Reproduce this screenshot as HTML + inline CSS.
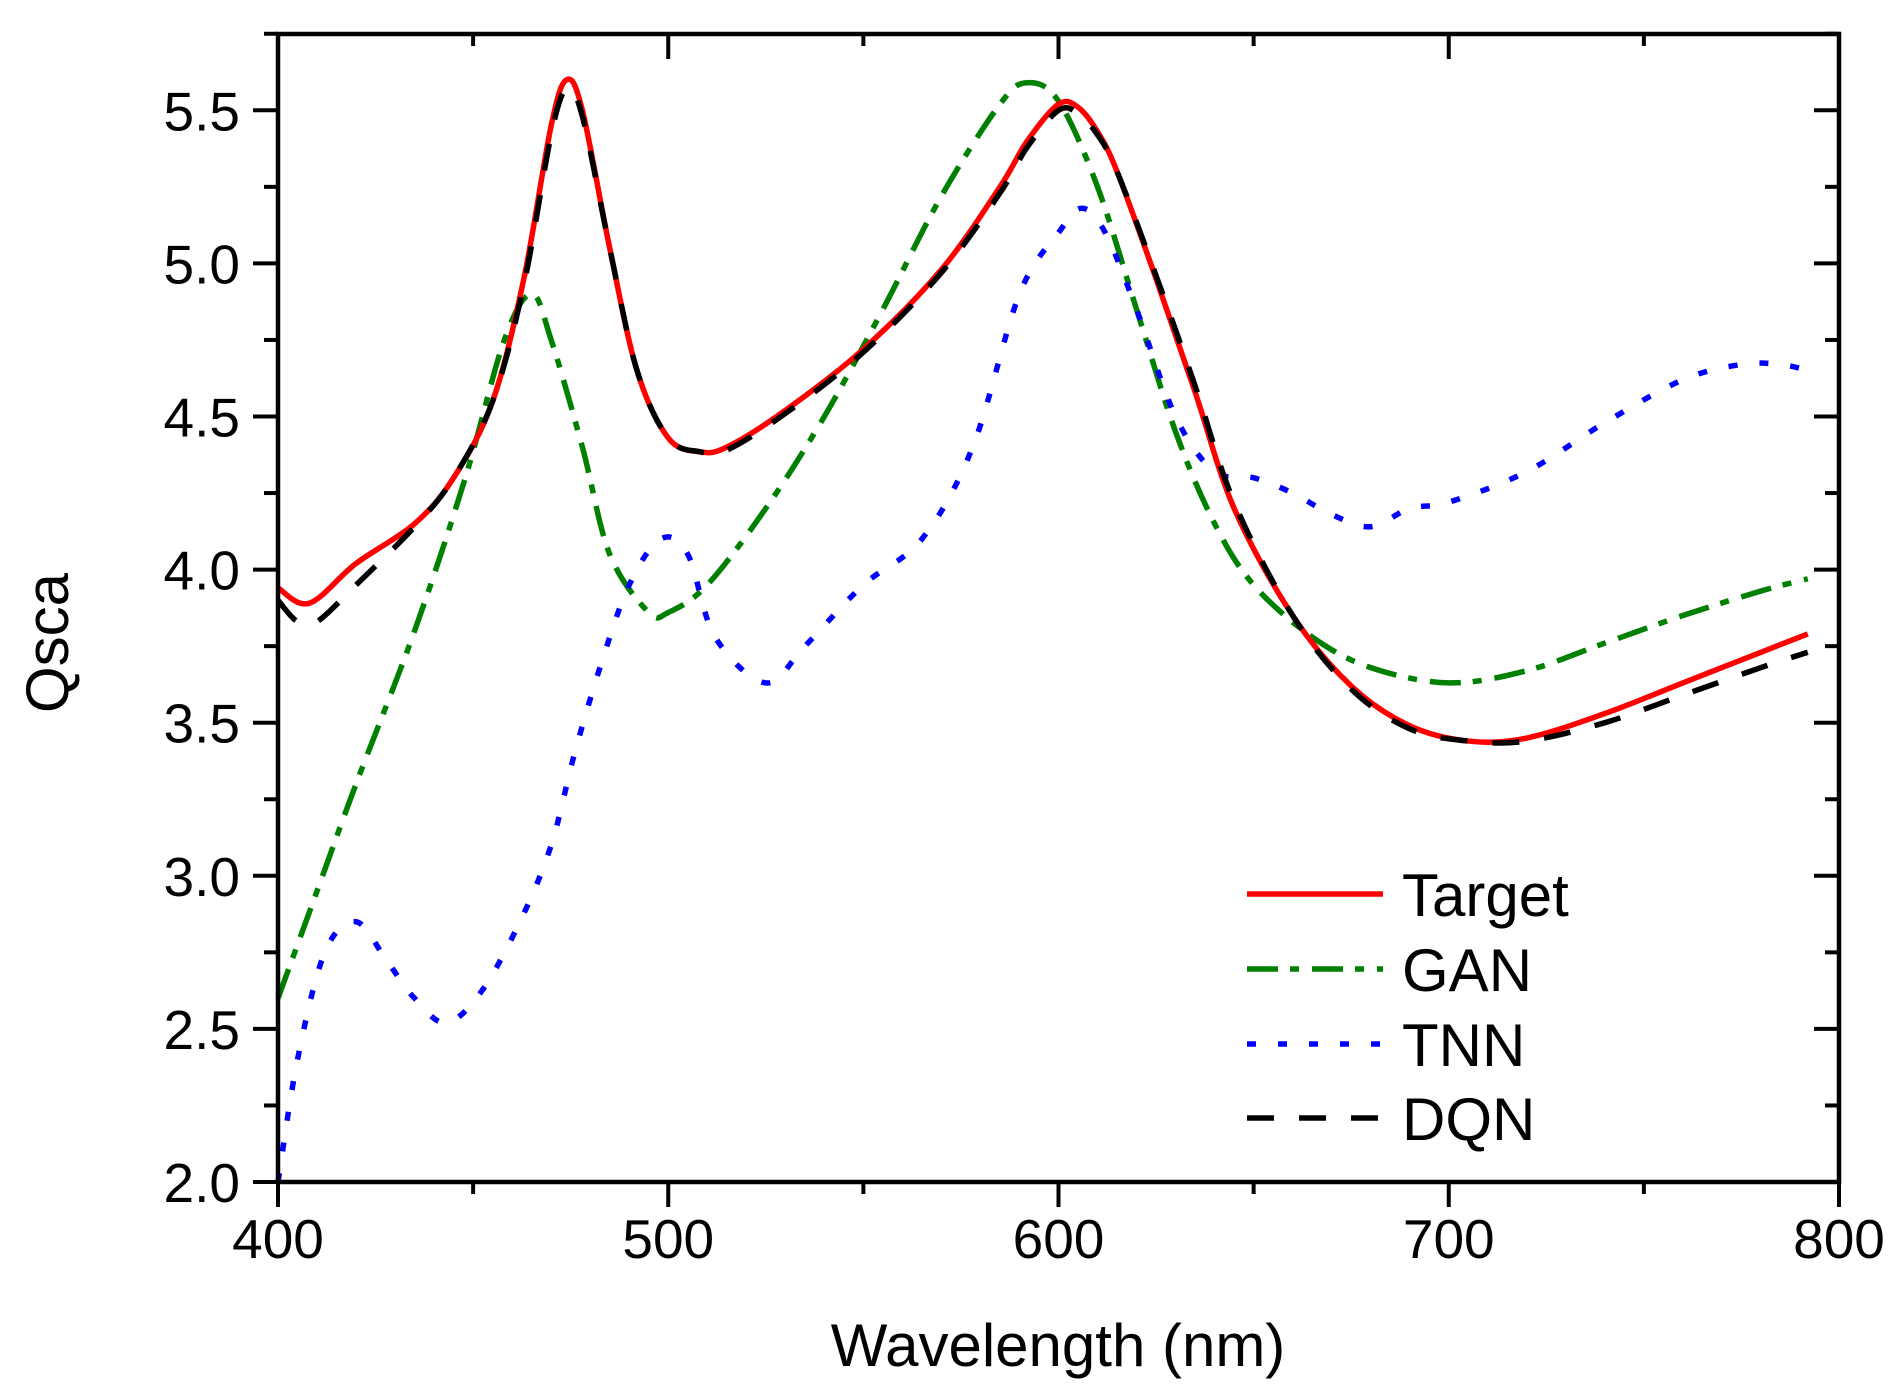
<!DOCTYPE html>
<html><head><meta charset="utf-8"><style>
html,body{margin:0;padding:0;background:#fff}
svg{display:block}
text{font-family:"Liberation Sans",Arial,sans-serif;fill:#000}
</style></head><body>
<svg id="chart" width="1904" height="1398" viewBox="0 0 1904 1398">
<g id="plot"></g>
</svg>
<script>
const wl_target=[400,408,420,435,445,455,463,470,474,478,485,492,500,508,515,530,550,570,585,592,600,605,610,615,625,635,645,660,675,690,705,720,740,760,780,792];
const q_target=[3.94,3.89,4.02,4.15,4.30,4.55,4.95,5.45,5.60,5.50,5.05,4.65,4.43,4.385,4.40,4.52,4.72,4.98,5.25,5.40,5.52,5.51,5.43,5.30,4.95,4.58,4.20,3.85,3.62,3.49,3.44,3.45,3.53,3.63,3.73,3.79];
const wl_dqn=[400,405,410,420,435,445,455,463,470,474,478,485,492,500,508,515,530,550,570,585,592,600,605,610,615,625,635,645,660,675,690,705,720,740,760,780,792];
const q_dqn=[3.90,3.83,3.83,3.95,4.14,4.30,4.55,4.93,5.42,5.57,5.48,5.05,4.65,4.43,4.385,4.39,4.51,4.71,4.97,5.23,5.38,5.50,5.49,5.42,5.30,4.96,4.60,4.22,3.85,3.61,3.48,3.44,3.44,3.50,3.59,3.68,3.73];
const wl_gan=[400,410,420,435,448,458,465,470,478,485,495,500,510,525,540,555,570,585,592,600,610,620,630,640,650,665,680,700,720,740,760,780,792];
const q_gan=[2.60,2.95,3.30,3.80,4.30,4.75,4.90,4.75,4.40,4.05,3.86,3.86,3.95,4.20,4.50,4.85,5.22,5.52,5.59,5.53,5.25,4.85,4.45,4.15,3.95,3.78,3.68,3.63,3.67,3.76,3.85,3.93,3.97];
const wl_tnn=[400,405,412,420,428,435,443,452,462,470,476,483,490,498,505,512,525,535,550,565,578,590,600,606,612,620,630,640,650,660,670,680,690,700,720,740,760,775,785,792];
const q_tnn=[2.0,2.4,2.75,2.85,2.72,2.60,2.52,2.62,2.85,3.10,3.40,3.70,3.95,4.10,4.05,3.78,3.63,3.75,3.95,4.10,4.40,4.90,5.10,5.18,5.10,4.85,4.50,4.32,4.30,4.25,4.18,4.14,4.20,4.22,4.32,4.48,4.62,4.67,4.67,4.65];
const xTicks=[400,500,600,700,800];
const yTicks=[2.0,2.5,3.0,3.5,4.0,4.5,5.0,5.5];

const L=278,R=1839,T=34,B=1182;
const sx=v=>L+(v-400)/400*(R-L);
const sy=v=>B-(v-2)/0.5*153.1;
const NS='http://www.w3.org/2000/svg';
const g=document.getElementById('plot');
function mk(tag,attrs){const e=document.createElementNS(NS,tag);for(const k in attrs)e.setAttribute(k,attrs[k]);g.appendChild(e);return e;}
function path(xs,ys){
  const p=xs.map((x,i)=>[sx(x),sy(ys[i])]);
  let d='M'+p[0][0]+','+p[0][1];
  for(let i=0;i<p.length-1;i++){
    const p0=p[Math.max(i-1,0)],p1=p[i],p2=p[i+1],p3=p[Math.min(i+2,p.length-1)];
    const c1=[p1[0]+(p2[0]-p0[0])/6,p1[1]+(p2[1]-p0[1])/6];
    const c2=[p2[0]-(p3[0]-p1[0])/6,p2[1]-(p3[1]-p1[1])/6];
    d+=' C'+c1+' '+c2+' '+p2;
  }
  return d;
}
const sGan=mk('path',{d:path(wl_gan,q_gan),fill:'none',stroke:'#008000','stroke-width':5.5,'stroke-dasharray':'31 12 9 13'});


const sTnn=mk('path',{d:path(wl_tnn,q_tnn),fill:'none',stroke:'#0000ff','stroke-width':5.5,'stroke-dasharray':'9 22'});


const sT=mk('path',{d:path(wl_target,q_target),fill:'none',stroke:'#ff0000','stroke-width':5.5});


const sD=mk('path',{d:path(wl_dqn,q_dqn),fill:'none',stroke:'#000','stroke-width':5.5,'stroke-dasharray':'27 25'});


const fr=mk('rect',{x:L,y:T,width:R-L,height:B-T,fill:'none',stroke:'#000','stroke-width':4.5});


for(let v=400;v<=800;v+=50){
  const x=sx(v),major=v%100===0,len=major?25:12;
  const t1=mk('line',{x1:x,y1:B,x2:x,y2:B+len,stroke:'#000','stroke-width':4});
  
  
  const t2=mk('line',{x1:x,y1:T,x2:x,y2:T+len,stroke:'#000','stroke-width':4});
  
  
}
xTicks.forEach(v=>{
  const t=mk('text',{x:sx(v),y:1258,'font-size':55,'text-anchor':'middle'});t.textContent=v;
  
  
});
for(let v=2.0;v<=5.76;v+=0.25){
  const y=sy(v),major=Math.abs(v*2-Math.round(v*2))<1e-6,len=major?25:14;
  const t1=mk('line',{x1:L-len,y1:y,x2:L,y2:y,stroke:'#000','stroke-width':4});
  
  
  const t2=mk('line',{x1:R-len,y1:y,x2:R,y2:y,stroke:'#000','stroke-width':4});
  
  
}
yTicks.forEach(v=>{
  const t=mk('text',{x:240,y:sy(v)+20,'font-size':55,'text-anchor':'end'});t.textContent=v.toFixed(1);
  
  
});
const xt=mk('text',{x:1058,y:1366,'font-size':60,'text-anchor':'middle'});xt.textContent='Wavelength (nm)';


const yt=mk('text',{x:0,y:0,'font-size':60,'text-anchor':'middle',transform:'translate(68,643) rotate(-90)'});yt.textContent='Qsca';


const legNames=['Target','GAN','TNN','DQN'];
const legColors=['#ff0000','#008000','#0000ff','#000'];
const legDash=['none','31 12 9 13','9 22','27 25'];
const legY=[894,969,1044,1118];
legNames.forEach((n,i)=>{
  const l=mk('line',{x1:1247,y1:legY[i],x2:1383,y2:legY[i],stroke:legColors[i],'stroke-width':5.5,'stroke-dasharray':legDash[i]});
  
  
  const t=mk('text',{x:1402,y:legY[i]+22,'font-size':60});t.textContent=n;
  
  
});
</script>
</body></html>
